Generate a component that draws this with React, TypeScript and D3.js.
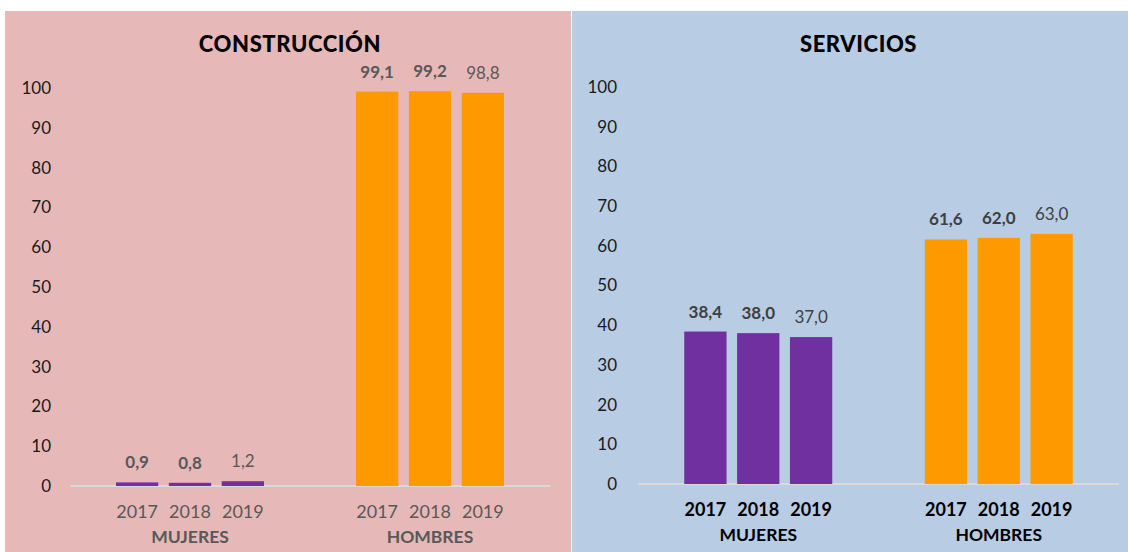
import React from "react";
import * as d3 from "d3";

const years = ["2017", "2018", "2019"];
const groups = ["MUJERES", "HOMBRES"];
const construccionMujeres = [0.9, 0.8, 1.2];
const construccionHombres = [99.1, 99.2, 98.8];
const serviciosMujeres = [38.4, 38.0, 37.0];
const serviciosHombres = [61.6, 62.0, 63.0];
const yTicks = [0, 10, 20, 30, 40, 50, 60, 70, 80, 90, 100];

const FONT = "Lato, 'Open Sans', sans-serif";

type PanelProps = {
  title: string;
  mujeres: number[];
  hombres: number[];
  x0: number;
  width: number;
  bg: string;
  axisLeft: number;
  axisRight: number;
  yTop: number;
  yBottom: number;
  tickX: number;
  labelColor: string;
  catColor: string;
  bottomColor: string;
};

function Panel(p: PanelProps) {
  const y = d3.scaleLinear().domain([0, 100]).range([p.yBottom, p.yTop]);
  const outer = d3.scaleBand<string>().domain(groups).range([p.axisLeft, p.axisRight]);
  const series = [p.mujeres, p.hombres];
  const colors = ["#7030a0", "#ff9900"];
  const fmt = (v: number) => d3.format(".1f")(v).replace(".", ",");
  return (
    <g>
      <rect x={p.x0} y={11} width={p.width} height={552 - 11} fill={p.bg} />
      <text x={(p.axisLeft + p.axisRight) / 2 - 20} y={52} textAnchor="middle" fontFamily={FONT} fontWeight={900} fontSize={22} letterSpacing={0.6} fill="#000">
        {p.title}
      </text>
      {yTicks.map((t) => (
        <text key={t} x={p.tickX} y={y(t)} dy="0.35em" textAnchor="end" fontFamily={FONT} fontSize={17} fill="#1a1a1a">
          {t}
        </text>
      ))}
      <line x1={p.axisLeft} x2={p.axisRight} y1={y(0)} y2={y(0)} stroke="#d9d9d9" strokeWidth={2} />
      {groups.map((g, gi) => {
        const c = (outer(g) as number) + outer.bandwidth() / 2;
        const inner = d3.scaleBand<string>().domain(years).range([c - 74, c + 74]).paddingInner(0.2);
        return (
          <g key={g}>
            {years.map((yr, i) => {
              const v = series[gi][i];
              const bx = inner(yr) as number;
              const bw = inner.bandwidth();
              return (
                <g key={yr}>
                  <rect x={bx} y={y(v)} width={bw} height={Math.max(y(0) - y(v), 3)} fill={colors[gi]} />
                  <text x={bx + bw / 2} y={y(v) - 14} textAnchor="middle" fontFamily={FONT} fontWeight={i < 2 ? 700 : 400} fontSize={17} fill={p.labelColor}>
                    {fmt(v)}
                  </text>
                  <text x={bx + bw / 2} y={y(0) + 32} textAnchor="middle" fontFamily={FONT} fontWeight={p.bottomColor === "#000" ? 700 : 400} fontSize={18} fill={p.bottomColor}>
                    {yr}
                  </text>
                </g>
              );
            })}
            <text x={c} y={y(0) + 57} textAnchor="middle" fontFamily={FONT} fontWeight={700} fontSize={17.5} fill={p.catColor}>
              {g}
            </text>
          </g>
        );
      })}
    </g>
  );
}

export default function App() {
  return (
    <svg width={1128} height={552} style={{ position: "absolute", left: 0, top: 0, background: "#fff" }}>
      <Panel
        title="CONSTRUCCIÓN"
        mujeres={construccionMujeres}
        hombres={construccionHombres}
        x0={5}
        width={566}
        bg="#e6b8b7"
        axisLeft={70}
        axisRight={550}
        yTop={88}
        yBottom={486}
        tickX={51}
        labelColor="#595959"
        catColor="#595959"
        bottomColor="#595959"
      />
      <Panel
        title="SERVICIOS"
        mujeres={serviciosMujeres}
        hombres={serviciosHombres}
        x0={572}
        width={556}
        bg="#b8cce4"
        axisLeft={638}
        axisRight={1119}
        yTop={87}
        yBottom={484}
        tickX={617}
        labelColor="#404040"
        catColor="#000"
        bottomColor="#000"
      />
    </svg>
  );
}
